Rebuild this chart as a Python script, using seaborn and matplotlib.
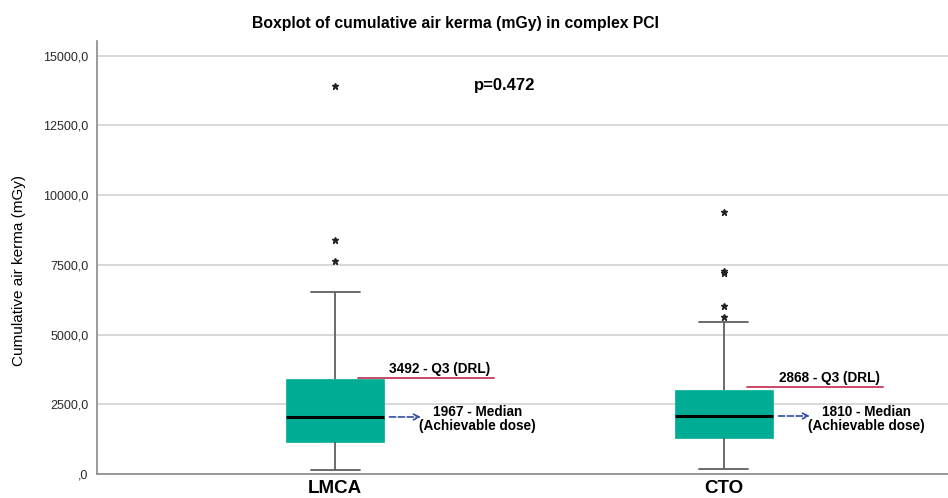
import pandas as pd
import matplotlib
matplotlib.use("Agg")
import matplotlib.pyplot as plt
import seaborn as sns
from matplotlib.ticker import FuncFormatter

# summary values (mGy)
groups = ["LMCA", "CTO"]
whisker_low = [130, 168]
q1 = [1140, 1303]
median = [2045, 2080]
q3 = [3400, 3010]
whisker_high = [6520, 5441]
outliers = [[7640, 8390, 13930], [5643, 6037, 7200, 7270, 9387]]

q3_labels = ["3492 - Q3 (DRL)", "2868 - Q3 (DRL)"]
median_labels = ["1967 - Median", "1810 - Median"]
p_text = "p=0.472"


def build_sample(lo, a, m, b, hi, fliers):
    # 4k+1 values so that quartiles fall exactly on a, m, b
    k = len(fliers) + 1
    return [lo] + [a] * k + [m] * k + [b] * k + [hi] + list(fliers)


rows = []
for i, g in enumerate(groups):
    for v in build_sample(whisker_low[i], q1[i], median[i], q3[i], whisker_high[i], outliers[i]):
        rows.append({"group": g, "kerma": v})
df = pd.DataFrame(rows)

sns.set_style("white")
plt.rcParams["font.family"] = ["Liberation Sans", "DejaVu Sans"]
plt.rcParams["text.color"] = "black"
plt.rcParams["axes.labelcolor"] = "black"

teal = "#00AD94"
fig = plt.figure(figsize=(9.48, 4.98), dpi=100)
ax = fig.add_axes([0.1023, 0.0482, 0.8977, 0.8695])

sns.boxplot(data=df, x="group", y="kerma", order=groups, color=teal, saturation=1,
            width=0.252, linecolor="#5f5f5f", linewidth=1.3, ax=ax,
            boxprops={"edgecolor": teal, "linewidth": 0.5},
            medianprops={"color": "black", "linewidth": 2.2},
            flierprops={"marker": "*", "markerfacecolor": "#222222",
                        "markeredgecolor": "#222222", "markersize": 5})

ax.set_xlim(-0.612, 1.576)
ax.set_ylim(0, 15530)
ax.set_yticks([0, 2500, 5000, 7500, 10000, 12500, 15000])


def fmt(v, pos):
    s = f"{v:.1f}".replace(".", ",")
    return s[1:] if s.startswith("0,") else s


ax.yaxis.set_major_formatter(FuncFormatter(fmt))
ax.yaxis.grid(True, color="#d6d6d6", linewidth=1.3)
ax.set_axisbelow(True)
for s in ["top", "right"]:
    ax.spines[s].set_visible(False)
for s in ["left", "bottom"]:
    ax.spines[s].set_color("#8a8a8a")
    ax.spines[s].set_linewidth(1.2)
ax.tick_params(axis="y", length=0, pad=6, labelsize=9, labelcolor="#2a2a2a")
ax.tick_params(axis="x", length=0, pad=4, labelsize=13.5, labelcolor="black")
for lab in ax.get_xticklabels():
    lab.set_fontweight("bold")
ax.set_xlabel("")
ax.set_ylabel("Cumulative air kerma (mGy)", fontsize=11)
ax.yaxis.set_label_coords(-0.083, 0.47)

# annotations
red = "#C8385A"
blue = "#2F4F9E"
q3_line_y = [3455, 3110]
for i in range(len(groups)):
    ax.plot([i + 0.06, i + 0.41], [q3_line_y[i]] * 2, color=red, lw=1.3)
    ax.annotate(q3_labels[i], xy=(i + 0.27, q3_line_y[i]), xytext=(0, 1.5),
                textcoords="offset points", ha="center", va="bottom",
                fontsize=9.8, fontweight="bold")
    ax.annotate("", xy=(i + 0.228, median[i]), xytext=(i + 0.133, median[i]),
                arrowprops=dict(arrowstyle="->", linestyle="--", color=blue, lw=1.2))
    ax.text(i + 0.367, median[i] - 90, median_labels[i] + "\n(Achievable dose)",
            ha="center", va="center", fontsize=9.8, fontweight="bold", linespacing=1.0)

ax.text(0.437, 13930, p_text, ha="center", va="center", fontsize=12, fontweight="bold")

fig.text(0.48, 0.952, "Boxplot of cumulative air kerma (mGy) in complex PCI",
         ha="center", va="center", fontsize=11.3, fontweight="bold")

fig.savefig("out.png", dpi=100)
